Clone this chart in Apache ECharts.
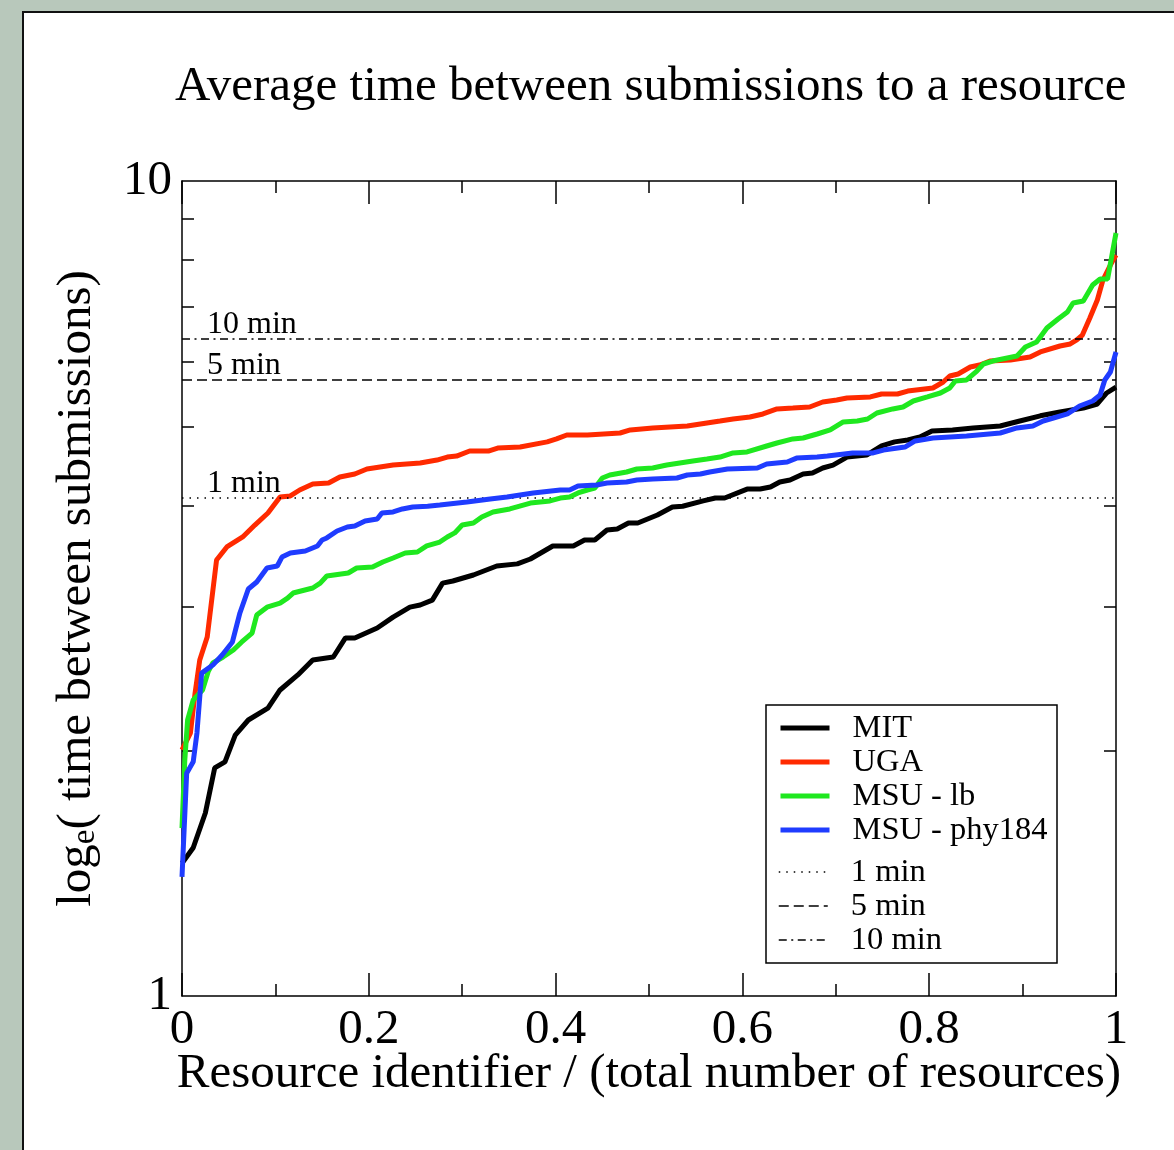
<!DOCTYPE html>
<html>
<head>
<meta charset="utf-8">
<script src="https://cdn.jsdelivr.net/npm/echarts@6/dist/echarts.min.js"></script>
<style>
html, body { margin: 0; padding: 0; width: 1174px; height: 1150px; background: #b8c8bb; overflow: hidden; }
#panel { position: absolute; left: 22px; top: 11px; width: 1170px; height: 1160px; background: #ffffff;
  border-left: 2px solid #111; border-top: 2px solid #111; box-sizing: border-box; }
#chart { position: absolute; left: 0; top: 0; width: 1174px; height: 1150px; }
</style>
</head>
<body>
<div id="panel"></div>
<div id="chart"></div>
<script>
// ---------- data ----------
const seriesNames = ['MIT', 'UGA', 'MSU - lb', 'MSU - phy184'];

const mitData = [[0,1.455],[0.012,1.52],[0.025,1.677],[0.035,1.905],[0.046,1.938],[0.057,2.09],[0.071,2.181],[0.092,2.255],[0.105,2.374],[0.124,2.477],[0.140,2.584],[0.162,2.606],[0.175,2.75],[0.185,2.75],[0.209,2.828],[0.226,2.917],[0.244,3.0],[0.255,3.018],[0.268,3.06],[0.279,3.211],[0.290,3.23],[0.312,3.285],[0.337,3.37],[0.359,3.39],[0.373,3.437],[0.397,3.566],[0.419,3.566],[0.431,3.627],[0.442,3.627],[0.455,3.73],[0.466,3.741],[0.478,3.805],[0.488,3.805],[0.509,3.892],[0.525,3.981],[0.536,3.99],[0.558,4.05],[0.571,4.083],[0.581,4.083],[0.605,4.188],[0.619,4.188],[0.630,4.212],[0.640,4.273],[0.651,4.297],[0.665,4.37],[0.675,4.382],[0.686,4.445],[0.697,4.482],[0.712,4.584],[0.733,4.61],[0.749,4.73],[0.763,4.785],[0.777,4.811],[0.790,4.852],[0.803,4.935],[0.825,4.949],[0.847,4.977],[0.876,5.005],[0.897,5.076],[0.919,5.151],[0.940,5.207],[0.965,5.266],[0.980,5.326],[0.990,5.494],[1.0,5.587]];

const ugaData = [[0,2.004],[0.009,2.102],[0.014,2.354],[0.019,2.584],[0.027,2.757],[0.037,3.428],[0.048,3.556],[0.065,3.658],[0.078,3.783],[0.092,3.914],[0.105,4.095],[0.116,4.107],[0.126,4.177],[0.140,4.248],[0.157,4.26],[0.169,4.333],[0.185,4.37],[0.198,4.432],[0.212,4.457],[0.226,4.482],[0.255,4.508],[0.273,4.546],[0.284,4.584],[0.294,4.597],[0.308,4.663],[0.328,4.663],[0.338,4.703],[0.362,4.716],[0.391,4.785],[0.401,4.825],[0.412,4.879],[0.434,4.879],[0.469,4.907],[0.480,4.949],[0.504,4.977],[0.541,5.005],[0.562,5.048],[0.576,5.076],[0.590,5.105],[0.608,5.134],[0.622,5.178],[0.637,5.252],[0.654,5.266],[0.672,5.281],[0.686,5.356],[0.701,5.386],[0.712,5.417],[0.737,5.433],[0.749,5.478],[0.766,5.478],[0.777,5.524],[0.804,5.572],[0.815,5.667],[0.822,5.764],[0.831,5.797],[0.844,5.912],[0.854,5.946],[0.865,6.013],[0.887,6.03],[0.908,6.081],[0.919,6.169],[0.940,6.274],[0.951,6.31],[0.958,6.382],[0.964,6.472],[0.972,6.79],[0.980,7.145],[0.986,7.559],[0.994,7.887],[1.0,8.113]];

const msuLbData = [[0,1.607],[0.003,1.948],[0.006,2.181],[0.012,2.308],[0.022,2.374],[0.028,2.50],[0.033,2.562],[0.044,2.606],[0.055,2.658],[0.064,2.719],[0.075,2.788],[0.080,2.934],[0.091,3.0],[0.105,3.034],[0.113,3.077],[0.119,3.122],[0.140,3.167],[0.148,3.211],[0.155,3.276],[0.178,3.304],[0.187,3.351],[0.204,3.36],[0.215,3.408],[0.226,3.447],[0.239,3.496],[0.252,3.506],[0.262,3.566],[0.276,3.606],[0.284,3.658],[0.292,3.70],[0.300,3.783],[0.312,3.805],[0.321,3.87],[0.333,3.926],[0.351,3.959],[0.373,4.026],[0.394,4.05],[0.405,4.083],[0.415,4.095],[0.424,4.142],[0.434,4.177],[0.442,4.201],[0.450,4.321],[0.458,4.358],[0.476,4.395],[0.487,4.432],[0.504,4.445],[0.519,4.482],[0.533,4.508],[0.547,4.533],[0.562,4.559],[0.576,4.584],[0.590,4.638],[0.605,4.651],[0.626,4.73],[0.637,4.77],[0.654,4.825],[0.665,4.838],[0.680,4.893],[0.694,4.949],[0.708,5.062],[0.723,5.076],[0.734,5.105],[0.744,5.192],[0.761,5.252],[0.772,5.281],[0.783,5.371],[0.798,5.433],[0.812,5.494],[0.822,5.572],[0.828,5.684],[0.840,5.70],[0.851,5.846],[0.858,5.963],[0.868,6.013],[0.894,6.099],[0.903,6.256],[0.915,6.346],[0.926,6.601],[0.938,6.772],[0.948,6.907],[0.954,7.084],[0.965,7.124],[0.975,7.453],[0.983,7.582],[0.991,7.582],[1.0,8.634]];

const msuPhyData = [[0,1.40],[0.005,1.877],[0.012,1.938],[0.016,2.102],[0.021,2.49],[0.033,2.547],[0.043,2.621],[0.054,2.719],[0.062,2.951],[0.071,3.158],[0.080,3.221],[0.091,3.351],[0.102,3.37],[0.107,3.456],[0.116,3.496],[0.132,3.516],[0.145,3.566],[0.150,3.627],[0.155,3.648],[0.166,3.72],[0.177,3.762],[0.185,3.773],[0.196,3.827],[0.209,3.848],[0.214,3.914],[0.226,3.926],[0.236,3.959],[0.247,3.981],[0.263,3.99],[0.276,4.004],[0.305,4.037],[0.330,4.072],[0.348,4.095],[0.376,4.142],[0.405,4.177],[0.415,4.177],[0.424,4.225],[0.444,4.236],[0.455,4.26],[0.476,4.273],[0.487,4.297],[0.504,4.309],[0.530,4.321],[0.541,4.358],[0.555,4.37],[0.565,4.395],[0.584,4.432],[0.616,4.445],[0.626,4.495],[0.648,4.52],[0.658,4.571],[0.680,4.584],[0.691,4.597],[0.718,4.638],[0.740,4.638],[0.751,4.676],[0.774,4.716],[0.785,4.798],[0.804,4.838],[0.840,4.866],[0.876,4.907],[0.894,4.977],[0.911,5.005],[0.922,5.076],[0.933,5.119],[0.948,5.178],[0.961,5.296],[0.975,5.371],[0.983,5.462],[0.988,5.699],[0.994,5.829],[1.0,6.169]];

const refNames = ['1 min', '5 min', '10 min'];
const refValues = [4.094, 5.704, 6.397];   // log_e of 60, 300, 600 seconds

const yMinorTicks = [2, 3, 4, 5, 6, 7, 8, 9];
const yLabelValues = [1, 10];

// ---------- styles ----------
const FONT = '"Liberation Serif", "Times New Roman", Times, serif';
const seriesColors = ['#000000', '#ff2a00', '#1fe81f', '#1f3cff'];
const refDash = [[1.5, 6], [10, 5], [8, 4.5, 2, 4.5]];

const allData = [mitData, ugaData, msuLbData, msuPhyData];

const series = [];
seriesNames.forEach((name, i) => {
  series.push({
    type: 'line', name: name, data: allData[i],
    symbol: 'none', smooth: false, clip: true,
    lineStyle: { color: seriesColors[i], width: 5 },
    itemStyle: { color: seriesColors[i] },
    z: 3 + i
  });
});
refNames.forEach((name, i) => {
  series.push({
    type: 'line', name: name, data: [], symbol: 'none',
    lineStyle: { color: '#000', width: 1.5, type: refDash[i] },
    itemStyle: { color: '#000' },
    markLine: {
      silent: true, symbol: ['none', 'none'], animation: false,
      lineStyle: { color: '#000', width: 1.5, type: refDash[i] },
      label: {
        show: true, position: 'insideStartTop', formatter: name,
        distance: [25, -2], color: '#000', fontFamily: FONT, fontSize: 32
      },
      emphasis: { disabled: true },
      data: [{ yAxis: refValues[i] }]
    }
  });
});

const axisLineStyle = { color: '#000', width: 1.5 };
const baseX = {
  type: 'value', min: 0, max: 1, interval: 0.2,
  axisLine: { show: true, onZero: false, lineStyle: axisLineStyle },
  axisTick: { show: true, inside: true, length: 23, lineStyle: axisLineStyle },
  minorTick: { show: true, splitNumber: 2, length: 12, lineStyle: axisLineStyle },
  splitLine: { show: false }, minorSplitLine: { show: false }
};
const baseY = {
  type: 'log', logBase: 10, min: 1, max: 10,
  axisLine: { show: true, onZero: false, lineStyle: axisLineStyle },
  axisTick: { show: true, inside: true, length: 12, lineStyle: axisLineStyle, customValues: yMinorTicks },
  splitLine: { show: false }
};

const option = {
  animation: false,
  backgroundColor: 'transparent',
  title: {
    text: 'Average time between submissions to a resource',
    left: 175, top: 63, padding: 0,
    textStyle: { fontFamily: FONT, fontSize: 49, fontWeight: 'normal', color: '#000' }
  },
  grid: { left: 182, right: 58, top: 181, bottom: 154 },
  xAxis: [
    Object.assign({}, baseX, {
      position: 'bottom',
      axisLabel: { show: true, margin: 10, color: '#000', fontFamily: FONT, fontSize: 49 },
      name: 'Resource identifier / (total number of resources)',
      nameLocation: 'middle', nameGap: 54, nameMoveOverlap: false,
      nameTextStyle: { fontFamily: FONT, fontSize: 49, color: '#000' }
    }),
    Object.assign({}, baseX, { position: 'top', axisLabel: { show: false } })
  ],
  yAxis: [
    Object.assign({}, baseY, {
      position: 'left',
      axisLabel: { show: true, margin: 10, color: '#000', fontFamily: FONT, fontSize: 49, customValues: yLabelValues },
      name: '{a|log}{b|e}{a|( time between submissions)}',
      nameLocation: 'middle', nameGap: 80, nameMoveOverlap: false,
      nameTextStyle: {
        color: '#000', fontFamily: FONT, fontSize: 49,
        rich: {
          a: { fontFamily: FONT, fontSize: 49, lineHeight: 49, color: '#000', verticalAlign: 'bottom' },
          b: { fontFamily: FONT, fontSize: 33, lineHeight: 20, color: '#000', verticalAlign: 'bottom' }
        }
      }
    }),
    Object.assign({}, baseY, { position: 'right', axisLabel: { show: false } })
  ],
  legend: [
    {
      data: seriesNames, orient: 'vertical', left: 778, top: 711, padding: 0,
      itemWidth: 49, itemHeight: 14, itemGap: 0, selectedMode: false,
      itemStyle: { opacity: 0 }, lineStyle: { width: 'inherit' },
      textStyle: { fontFamily: FONT, fontSize: 32.5, lineHeight: 34, color: '#000', padding: [0, 0, 0, 18] }
    },
    {
      data: refNames, orient: 'vertical', left: 778, top: 855, padding: 0,
      itemWidth: 49, itemHeight: 14, itemGap: 0, selectedMode: false,
      itemStyle: { opacity: 0 }, lineStyle: { width: 'inherit' },
      textStyle: { fontFamily: FONT, fontSize: 32.5, lineHeight: 34, color: '#000', padding: [0, 0, 0, 18] }
    }
  ],
  graphic: [
    { type: 'rect', silent: true, z: 100,
      shape: { x: 766, y: 705, width: 291, height: 258 },
      style: { fill: 'transparent', stroke: '#000', lineWidth: 1.5 } }
  ],
  series: series
};

const chart = echarts.init(document.getElementById('chart'), null, { renderer: 'canvas' });
chart.setOption(option);
</script>
</body>
</html>
